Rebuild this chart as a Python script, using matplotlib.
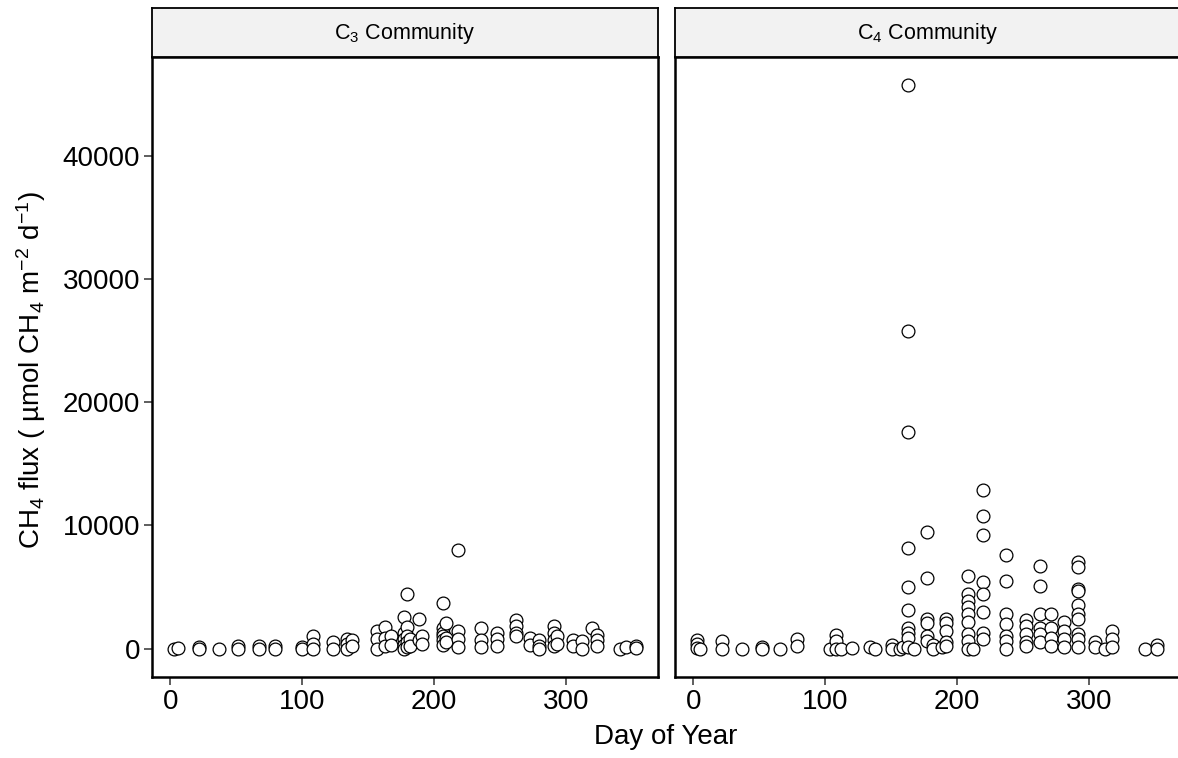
import matplotlib
matplotlib.use("Agg")
import matplotlib.pyplot as plt

plt.rcParams["font.family"] = ["Liberation Sans", "DejaVu Sans"]
plt.rcParams["mathtext.fontset"] = "custom"
plt.rcParams["mathtext.rm"] = "Liberation Sans"
plt.rcParams["mathtext.it"] = "Liberation Sans:italic"
plt.rcParams["mathtext.bf"] = "Liberation Sans:bold"

# C3 community: day of year and CH4 flux
c3_day = [2.5, 6,
          22, 22, 37, 51.5, 51.5, 67, 67, 79, 79,
          100, 100, 108, 108, 108, 123, 123,
          134, 134, 134, 137.5, 137.5,
          157, 157, 157, 163, 163, 163, 167, 167,
          177, 177, 177, 177, 177,
          179.5, 179.5, 179.5, 179.5, 179.5, 182, 182,
          188.6, 188.6, 190.7, 190.7,
          207, 207, 207, 207, 207, 207, 209, 209, 209,
          218.5, 218.5, 218.5, 218.5,
          236, 236, 236, 247.5, 247.5, 247.5,
          262.6, 262.6, 262.6, 262.6, 273, 273, 280, 280, 280,
          291, 291, 291, 291, 293, 293,
          305.5, 305.5, 312.6, 312.6, 320, 324, 324, 324,
          341, 346, 353.5, 353.5]
c3_flux = [0, 50,
           100, 0, 0, 200, 0, 250, 0, 200, 0,
           150, 0, 1050, 400, 0, 500, 0,
           800, 400, 0, 700, 200,
           1450, 800, 0, 1750, 900, 200, 1000, 300,
           2600, 1300, 800, 300, 0,
           4400, 1750, 1000, 500, 100, 800, 200,
           2400, 700, 1000, 400,
           3700, 1700, 1300, 1000, 700, 300, 2100, 900, 500,
           8000, 1450, 800, 100,
           1650, 700, 100, 1250, 750, 250,
           2300, 1800, 1300, 1000, 900, 300, 700, 200, 0,
           1800, 1250, 700, 200, 1000, 400,
           700, 200, 600, 0, 1650, 1100, 700, 200,
           0, 100, 200, 50]

# C4 community
c4_day = [3, 3, 3, 5,
          22, 22, 37, 52, 52, 66, 78.5, 78.5,
          104, 108, 108, 108, 112, 120, 134, 138,
          150.5, 150.5, 157, 159,
          163, 163, 163, 163, 163, 163, 163, 163, 163, 163, 167,
          177.5, 177.5, 177.5, 177.5, 177.5, 177.5, 182, 182, 189,
          192, 192, 192, 192, 192,
          208, 208, 208, 208, 208, 208, 208, 208, 208, 212,
          219.5, 219.5, 219.5, 219.5, 219.5, 219.5, 219.5, 219.5,
          237, 237, 237, 237, 237, 237, 237,
          252, 252, 252, 252, 252,
          263, 263, 263, 263, 263, 263,
          271, 271, 271, 271,
          281, 281, 281, 281,
          292, 292, 292, 292, 292, 292, 292, 292, 292, 292,
          304.5, 304.5, 312, 318, 318, 318,
          342.5, 352, 352]
c4_flux = [700, 350, 50, 0,
           600, 0, 0, 100, 0, 0, 800, 250,
           0, 1100, 600, 0, 0, 50, 100, 0,
           300, 0, 0, 100,
           45700, 25800, 17600, 8200, 5000, 3100, 1700, 1300, 900, 100, 0,
           9450, 5700, 2400, 2100, 1050, 650, 300, 0, 100,
           2400, 2100, 1450, 500, 250,
           5900, 4450, 3900, 3350, 2800, 2150, 1200, 650, 0, 0,
           12900, 10800, 9200, 5400, 4400, 2950, 1300, 800,
           7600, 5500, 2800, 2000, 1050, 650, 0,
           2300, 1850, 1200, 500, 250,
           6700, 5050, 2800, 1700, 1200, 500,
           2800, 1700, 900, 250,
           2150, 1450, 800, 100,
           7050, 6600, 4850, 4700, 3550, 2800, 2400, 1200, 800, 100,
           500, 100, 0, 1450, 800, 100,
           0, 300, 0]

panels = [("C$_3$ Community", c3_day, c3_flux),
          ("C$_4$ Community", c4_day, c4_flux)]
y_ticks = [0, 10000, 20000, 30000, 40000]
x_ticks = [0, 100, 200, 300]

W, H = 1178, 758
fig = plt.figure(figsize=(W / 100, H / 100), dpi=100)

lefts = [152, 675]
pw, top, bottom = 506, 57, 677
strip_top = 8

for i, (title, days, flux) in enumerate(panels):
    ax = fig.add_axes([lefts[i] / W, 1 - bottom / H, pw / W, (bottom - top) / H])
    ax.scatter(days, flux, s=85, facecolor="white", edgecolor="black",
               linewidths=0.9, zorder=3)
    ax.set_xlim(-14, 370)
    ax.set_ylim(-2300, 48000)
    ax.set_xticks(x_ticks)
    ax.set_yticks(y_ticks)
    for sp in ax.spines.values():
        sp.set_linewidth(1.8)
    ax.tick_params(length=5.5, width=1.1, color="#333333", labelsize=20,
                   pad=3, labelcolor="black")
    if i > 0:
        # inner facet: no y axis ticks or labels
        ax.tick_params(axis="y", left=False, labelleft=False)

    sax = fig.add_axes([lefts[i] / W, 1 - top / H, pw / W, (top - strip_top) / H])
    sax.set_facecolor("#F2F2F2")
    sax.set_xticks([])
    sax.set_yticks([])
    for sp in sax.spines.values():
        sp.set_linewidth(1.3)
    sax.text(0.5, 0.47, title, ha="center", va="center", fontsize=15.5,
             transform=sax.transAxes)

fig.text(666 / W, 1 - 737 / H, "Day of Year", ha="center", va="center",
         fontsize=20)
fig.text(31 / W, 1 - 370 / H,
         "CH$_4$ flux ( µmol CH$_4$ m$^{-2}$ d$^{-1}$)",
         ha="center", va="center", rotation=90, fontsize=20)

fig.savefig("out.png", dpi=100)
